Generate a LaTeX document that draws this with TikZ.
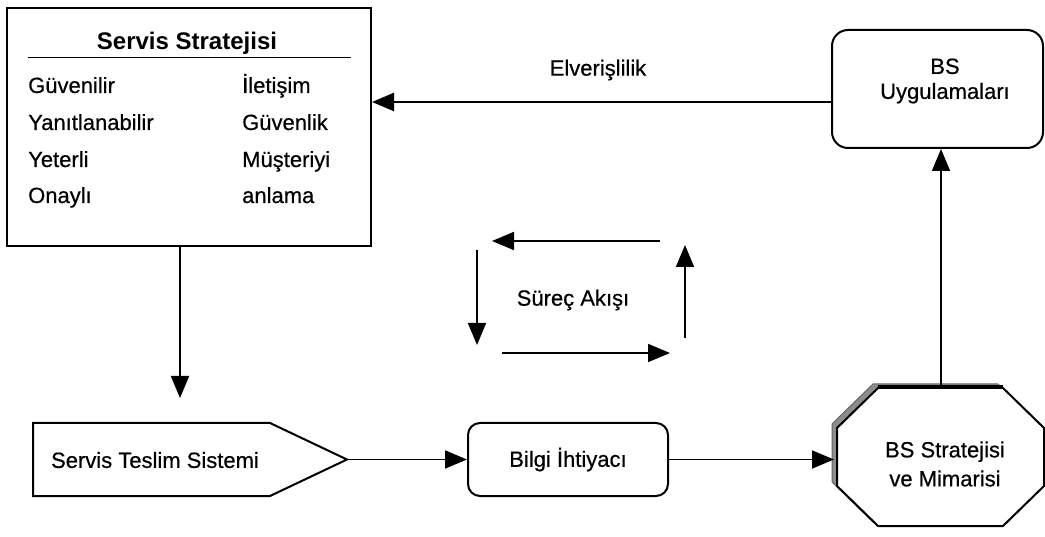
\documentclass[tikz,border=0pt]{standalone}
\usepackage{fontspec}
\setmainfont{Liberation Sans}
\newfontfamily\heavyfont{Liberation Sans}[FakeBold=0.5]
\usetikzlibrary{arrows.meta}
\begin{document}
\begin{tikzpicture}[x=1pt,y=-1pt,
  txt/.style={font=\heavyfont\fontsize{22}{25}\selectfont, inner sep=0pt},
  box/.style={draw, line width=2pt},
  conn/.style={line width=1.8pt, -{Triangle[length=22pt,width=18pt]}},
]
\useasboundingbox (0,0) rectangle (1045,537);

% Servis Stratejisi box
\node[box, minimum width=364pt, minimum height=238pt, inner sep=0pt] (ss) at (189,127) {};
\node[font=\bfseries\fontsize{24}{28}\selectfont, anchor=base, inner sep=0pt] (sstitle) at (187,50) {Servis Stratejisi};
\draw[line width=1pt] (28,58) -- (351,58);
\node[txt, anchor=base west] (l1) at (28,93) {Güvenilir};
\node[txt, anchor=base west] (l2) at (28,130) {Yanıtlanabilir};
\node[txt, anchor=base west] (l3) at (28,167) {Yeterli};
\node[txt, anchor=base west] (l4) at (28,203) {Onaylı};
\node[txt, anchor=base west] (r1) at (242,93) {İletişim};
\node[txt, anchor=base west] (r2) at (242,130) {Güvenlik};
\node[txt, anchor=base west] (r3) at (242,167) {Müşteriyi};
\node[txt, anchor=base west] (r4) at (242,203) {anlama};

% Servis Teslim Sistemi
\draw[box] (33,423) -- (270,423) -- (347,459.5) -- (270,496) -- (33,496) -- cycle;
\node[txt] (sts) at (155,460) {Servis Teslim Sistemi};
\coordinate (ststip) at (347,459.5);
\coordinate (dtip) at (180,398);

% Bilgi Ihtiyaci
\node[box, rounded corners=12pt, minimum width=200pt, minimum height=73pt, txt] (bi) at (568,459.5) {Bilgi İhtiyacı};

% Octagon
\fill[black!45, draw=black!60, line width=1pt] (873,384) -- (998,384) -- (1039,424) -- (1039,482) -- (998,522) -- (873,522) -- (832,482) -- (832,424) -- cycle;
\draw[box, fill=white] (878,388) -- (1003,388) -- (1044,428) -- (1044,486) -- (1003,526) -- (878,526) -- (837,486) -- (837,428) -- cycle;
\draw[line width=3pt] (878,387) -- (1003,387);
\node[txt, align=center, font=\heavyfont\fontsize{22}{29}\selectfont] (oct) at (945,464) {BS Stratejisi\\ve Mimarisi};
\coordinate (octW) at (834,459.5);
\coordinate (octN) at (941,385);

% BS Uygulamalari
\node[box, rounded corners=16pt, minimum width=211pt, minimum height=118pt] (bsu) at (937.5,89) {};
\node[txt, align=center] (bsut) at (945,81) {BS\\Uygulamaları};

% connectors
\draw[conn] ([xshift=-9pt]ss.south) -- (dtip);
\draw[conn] (ststip) -- (bi.west);
\draw[conn] (bi.east) -- (octW);
\draw[conn] (octN) -- (octN |- bsu.south);
\draw[conn, line width=2.4pt] ([yshift=-13pt]bsu.west) -- ([yshift=-13pt]bsu.west -| ss.east);
\node[txt] (elv) at (598,70) {Elverişlilik};

% Surec Akisi loop
\node[txt] (surec) at (573,300) {Süreç Akışı};
\coordinate (p1) at (660,241); \coordinate (p2) at (492,241);
\coordinate (p3) at (477,250); \coordinate (p4) at (477,345);
\coordinate (p5) at (502,353); \coordinate (p6) at (670,353);
\coordinate (p7) at (685,338); \coordinate (p8) at (685,245);
\draw[conn] (p1) -- (p2);
\draw[conn] (p3) -- (p4);
\draw[conn] (p5) -- (p6);
\draw[conn] (p7) -- (p8);
\end{tikzpicture}
\end{document}
